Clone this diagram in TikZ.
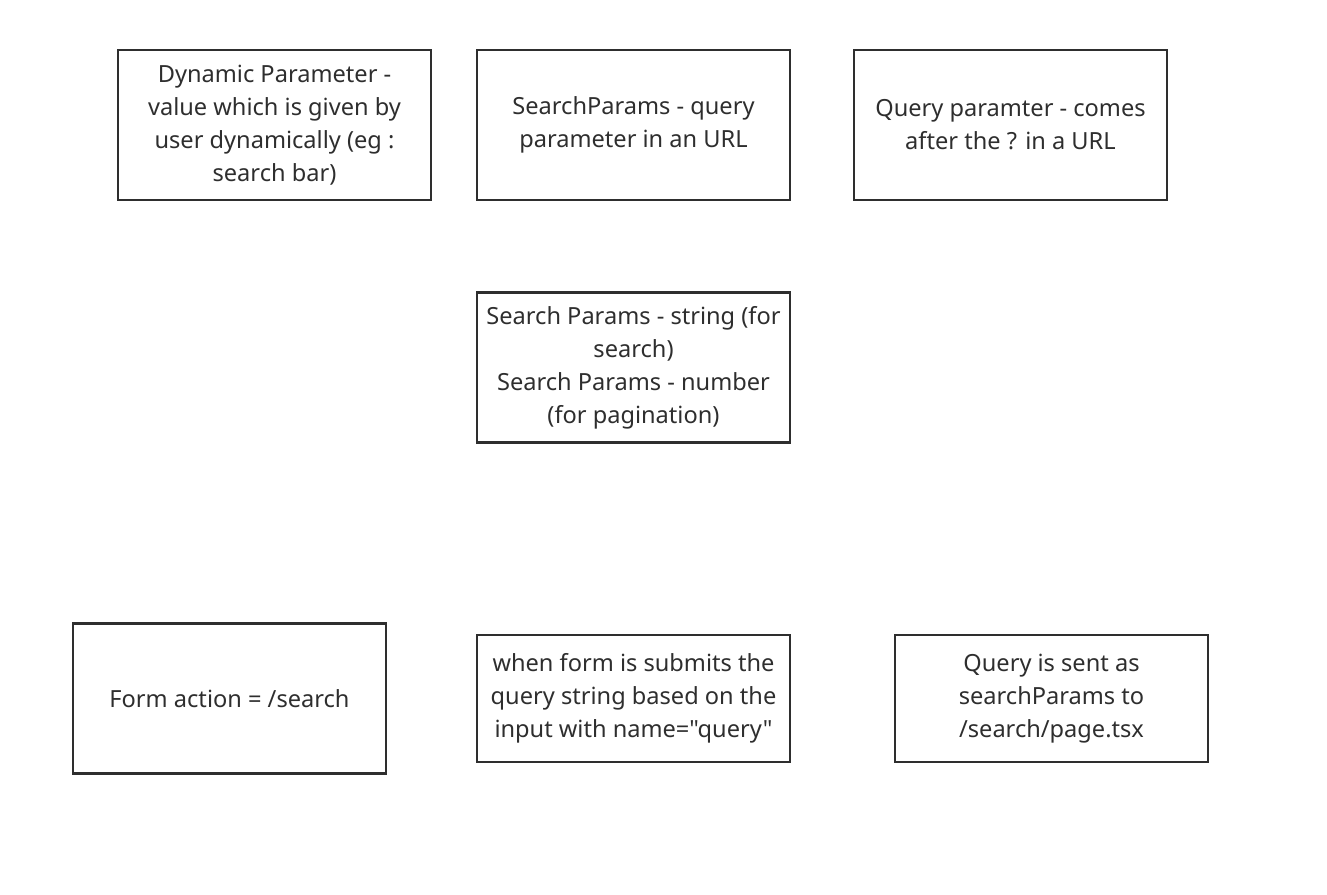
\documentclass[tikz,border=0pt]{standalone}
\usepackage{fontspec}
\setmainfont{Noto Sans}[Ligatures=TeXOff]
\usetikzlibrary{positioning}
\definecolor{inkgray}{HTML}{2E2E2E}
\tikzset{
    notebox/.style = {rectangle, line width=2.2pt, draw=inkgray, align=center, minimum width=313*0.75pt, minimum height=150*0.75pt, inner sep=0pt, text=inkgray, font=\fontsize{17.7}{24.75}\selectfont},
    noteboxs/.style = {notebox, minimum height=127*0.75pt}
}
\begin{document}
\begin{tikzpicture}[x=0.75pt,y=-0.75pt]
\useasboundingbox (0,0) rectangle (1327,894);

\node[notebox] at ( 274.5, 125.0) (dyn) {Dynamic Parameter -\\value which is given by\\user dynamically (eg :\\search bar)};
\node[notebox] at ( 633.5, 125.0) (sp) {SearchParams - query\\parameter in an URL};
\node[notebox] at (1010.5, 125.0) (qp) {Query paramter - comes\\after the ? in a URL};

\node[notebox] at ( 633.5, 367.5) (types) {Search Params - string (for\\search)\\Search Params - number\\(for pagination)};

\node[notebox] at ( 229.5, 698.5) (form) {Form action = /search};
\node[noteboxs] at ( 633.5, 698.5) (submit) {when form is submits the\\query string based on the\\input with name="query"};
\node[noteboxs] at (1051.5, 698.5) (sent) {Query is sent as\\searchParams to\\/search/page.tsx};

\end{tikzpicture}
\end{document}
